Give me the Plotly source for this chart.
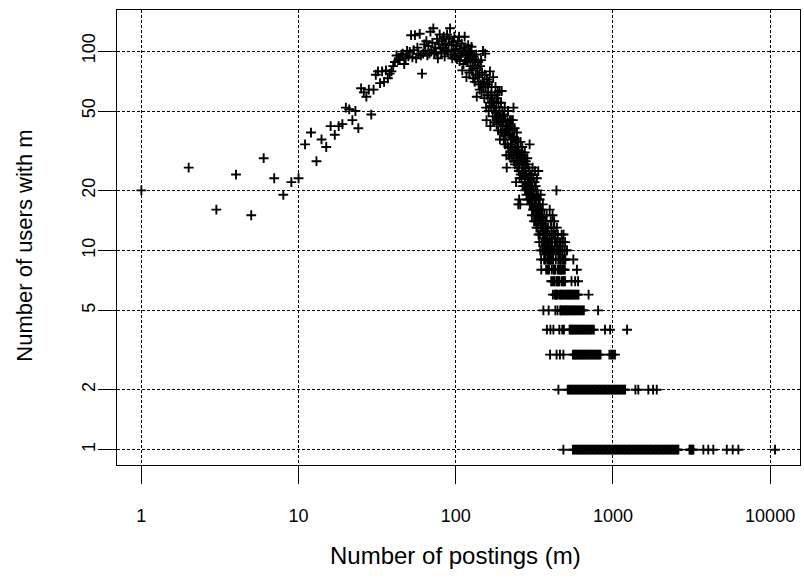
import plotly.graph_objects as go

# users with m postings, for m = 1..300 (one value per m)
head_counts = [
    20, 26, 16, 24, 15, 29, 23, 19, 22, 23,
    34, 39, 28, 36, 33, 42, 38, 42, 43, 52,
    51, 45, 50, 41, 65, 62, 59, 64, 48, 64,
    76, 79, 69, 79, 70, 80, 73, 77, 79, 84,
    88, 95, 90, 90, 96, 97, 86, 92, 100, 94,
    99, 120, 93, 101, 120, 92, 104, 97, 122, 95,
    77, 97, 108, 100, 112, 95, 106, 97, 125, 101,
    110, 130, 98, 104, 99, 115, 92, 108, 121, 103,
    97, 112, 104, 118, 94, 109, 101, 121, 99, 107,
    115, 130, 96, 108, 92, 111, 100, 118, 94, 102,
    106, 91, 112, 97, 118, 89, 103, 95, 109, 80,
    98, 86, 104, 118, 90, 100, 74, 96, 88, 107,
    92, 78, 98, 84, 100, 105, 80, 90, 73, 94,
    84, 70, 90, 76, 96, 59, 82, 74, 88, 68,
    76, 64, 84, 68, 90, 62, 78, 70, 100, 66,
    70, 58, 76, 97, 66, 52, 45, 72, 60, 68,
    62, 50, 70, 55, 79, 42, 60, 53, 66, 56,
    58, 47, 74, 52, 55, 44, 60, 50, 66, 49,
    52, 43, 58, 46, 62, 40, 55, 45, 50, 63,
    36, 48, 40, 55, 44, 63, 39, 50, 42, 47,
    44, 36, 48, 39, 52, 34, 45, 38, 42, 30,
    26, 40, 34, 44, 50, 33, 41, 30, 38, 45,
    38, 31, 42, 34, 45, 29, 37, 33, 40, 36,
    45, 30, 52, 28, 37, 32, 41, 27, 35, 31,
    33, 22, 36, 29, 39, 26, 32, 28, 35, 17,
    31, 25, 18, 27, 23, 30, 17, 35, 24, 29,
    28, 23, 31, 25, 33, 21, 27, 24, 30, 25,
    26, 21, 29, 23, 31, 20, 25, 22, 28, 24,
    24, 19, 27, 21, 29, 18, 23, 20, 26, 22,
    23, 18, 25, 20, 34, 17, 22, 19, 24, 21,
]
head_start = 1

# users with m postings, for m = 301..469
mid_counts = [
    21, 17, 24, 19, 15, 22, 18, 26, 20, 16,
    19, 23, 16, 20, 14, 18, 22, 17, 25, 15,
    18, 14, 21, 16, 19, 13, 17, 23, 15, 20,
    16, 13, 19, 15, 25, 12, 17, 14, 18, 11,
    15, 18, 12, 16, 10, 14, 19, 13, 9, 8,
    14, 11, 16, 13, 10, 15, 12, 17, 11, 13,
    5, 10, 14, 12, 9, 15, 11, 13, 10, 12,
    9, 14, 10, 11, 13, 8, 12, 10, 15, 4,
    11, 9, 12, 10, 8, 13, 10, 9, 11, 5,
    10, 8, 11, 9, 12, 16, 10, 3, 9, 4,
    10, 14, 9, 11, 7, 13, 12, 8, 10, 7,
    9, 11, 15, 10, 6, 9, 12, 4, 8, 13,
    7, 10, 14, 8, 12, 7, 11, 6, 8, 5,
    12, 6, 9, 11, 10, 6, 20, 3, 7, 13,
    6, 11, 7, 5, 8, 12, 10, 7, 9, 2,
    7, 10, 8, 6, 11, 4, 7, 9, 8, 3,
    10, 5, 8, 6, 9, 11, 5, 6, 8,
]
mid_start = 301

# m values (m >= 470) at which the number of users equals the level
level_12 = [472, 485]
level_11 = [480, 496]
level_10 = [475, 490, 505, 510]
level_9 = [477, 484, 492, 498, 560]
level_8 = [471, 479, 487, 494, 590]
level_7 = [473, 481, 489, 496, 545, 575, 600]
level_6 = [474, 483, 491, 500, 508, 516, 525, 534, 543, 552, 562, 572, 583,
           594, 604, 700]
level_5 = [470, 478, 486, 495, 502, 510, 519, 528, 537, 546, 555, 565, 575,
           585, 596, 607, 618, 630, 641, 653, 805]
level_4 = [476, 488, 530, 538, 546, 555, 564, 573, 583, 593, 603, 614, 625,
           636, 648, 660, 672, 685, 698, 712, 726, 741, 756, 890, 960, 1230]
level_3 = [484, 556, 565, 574, 584, 594, 604, 615, 626, 637, 649, 661, 673,
           686, 699, 713, 727, 742, 757, 772, 787, 803, 818, 834, 950, 975,
           1000, 1030]
level_2 = [516, 526, 536, 546, 556, 567, 578, 589, 600, 612, 624, 636, 648,
           660, 673, 686, 699, 713, 727, 741, 755, 770, 785, 800, 815, 831,
           847, 863, 880, 897, 914, 932, 950, 968, 987, 1006, 1025, 1045,
           1065, 1086, 1107, 1128, 1150, 1172, 1195, 1390, 1450, 1680, 1800,
           1900]
level_1 = [484, 556, 567, 578, 589, 600, 612, 624, 636, 648, 660, 673, 686,
           699, 713, 727, 741, 755, 770, 785, 800, 815, 831, 847, 863, 880,
           897, 914, 932, 950, 968, 987, 1006, 1025, 1045, 1065, 1086, 1107,
           1128, 1150, 1172, 1195, 1218, 1241, 1265, 1289, 1314, 1339, 1365,
           1391, 1418, 1445, 1473, 1501, 1530, 1559, 1589, 1620, 1651, 1683,
           1715, 1748, 1782, 1816, 1851, 1887, 1923, 1960, 1998, 2036, 2075,
           2115, 2156, 2197, 2239, 2282, 2326, 2371, 2416, 2462, 2510, 2558,
           2607, 3070, 3110, 3150, 3200, 3250, 3760, 4040, 4350, 5300, 5780,
           6280, 10740]

x_ticks = [1, 10, 100, 1000, 10000]
x_tick_labels = ["1", "10", "100", "1000", "10000"]
y_ticks = [1, 2, 5, 10, 20, 50, 100]
y_tick_labels = ["1", "2", "5", "10", "20", "50", "100"]

levels = [(1, level_1), (2, level_2), (3, level_3), (4, level_4), (5, level_5),
          (6, level_6), (7, level_7), (8, level_8), (9, level_9),
          (10, level_10), (11, level_11), (12, level_12)]

xs = [head_start + i for i in range(len(head_counts))]
ys = list(head_counts)
xs += [mid_start + i for i in range(len(mid_counts))]
ys += list(mid_counts)
for lv, ms in levels:
    xs += ms
    ys += [lv] * len(ms)

FONT = "Liberation Sans, Arial, sans-serif"

fig = go.Figure()
fig.add_trace(go.Scatter(
    x=xs, y=ys, mode="markers",
    marker=dict(symbol="cross-thin", size=7,
                line=dict(width=1.9, color="black"), color="black"),
    hoverinfo="x+y", showlegend=False,
))

axis_common = dict(
    type="log", showline=True, linecolor="black", linewidth=1.3, mirror=True,
    ticks="outside", ticklen=18, tickwidth=1.3, tickcolor="black",
    showgrid=True, gridcolor="black", gridwidth=1, griddash="3px,2px",
    zeroline=False, tickfont=dict(family=FONT, size=18, color="black"),
)

fig.update_layout(
    width=804, height=582, autosize=False,
    margin=dict(l=117, r=4, t=10, b=117),
    paper_bgcolor="white", plot_bgcolor="white",
    xaxis=dict(axis_common, range=[-0.155, 4.19], tickvals=x_ticks,
               ticktext=x_tick_labels, ticklabelstandoff=16),
    yaxis=dict(axis_common, range=[-0.0767, 2.2057], tickvals=y_ticks,
               ticktext=y_tick_labels, tickangle=-90, ticklabelstandoff=-4),
    annotations=[
        dict(text="Number of postings (m)", xref="paper", yref="paper",
             x=0.495, y=-0.198, xanchor="center", yanchor="middle",
             showarrow=False, font=dict(family=FONT, size=24, color="black")),
        dict(text="Number of users with m", xref="paper", yref="paper",
             x=-0.1347, y=0.482, xanchor="center", yanchor="middle",
             textangle=-90, showarrow=False,
             font=dict(family=FONT, size=22, color="black")),
    ],
)

fig.write_html("out.html")
